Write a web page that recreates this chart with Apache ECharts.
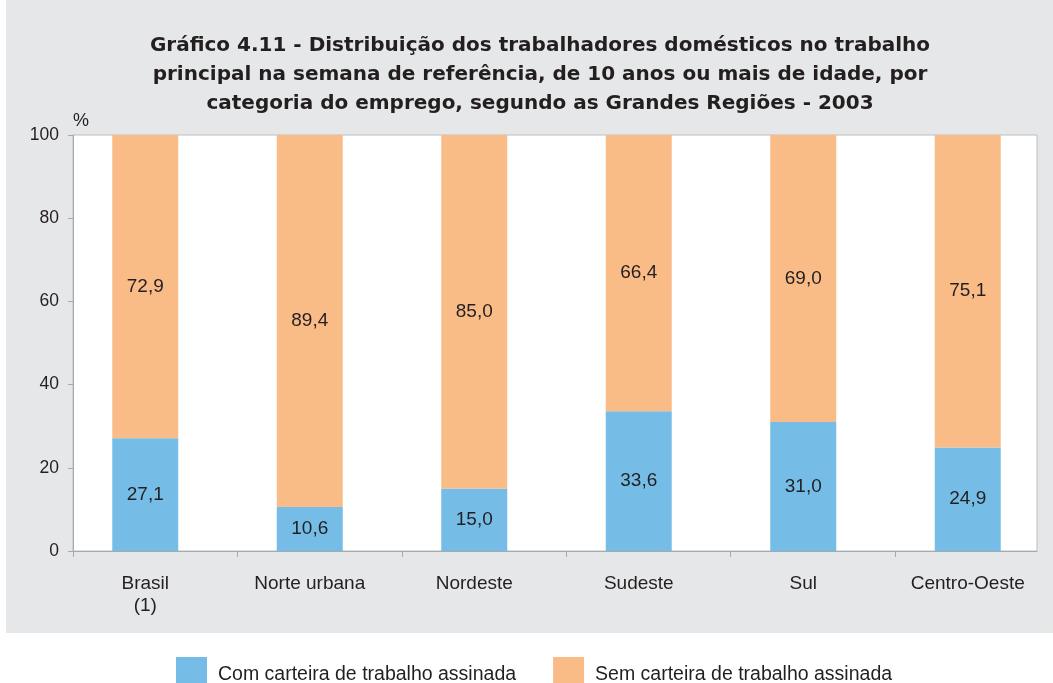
<!DOCTYPE html>
<html>
<head>
<meta charset="utf-8">
<script src="https://cdn.jsdelivr.net/npm/echarts@6/dist/echarts.min.js"></script>
<style>
html, body { margin: 0; padding: 0; background: #fff; }
#chart { width: 1053px; height: 683px; }
</style>
</head>
<body>
<div id="chart"></div>
<script>
// dados do gráfico
const regioes = ['Brasil\n(1)', 'Norte urbana', 'Nordeste', 'Sudeste', 'Sul', 'Centro-Oeste'];
const comCarteira = [27.1, 10.6, 15.0, 33.6, 31.0, 24.9];
const semCarteira = [72.9, 89.4, 85.0, 66.4, 69.0, 75.1];
const yTicks = [0, 20, 40, 60, 80, 100];

const txt = '#231f20';
const font = '"Liberation Sans", Arial, sans-serif';
const fmt = p => p.value.toFixed(1).replace('.', ',');

let mychart = echarts.init(document.getElementById('chart'));
mychart.setOption({
    textStyle: { fontFamily: font },
    graphic: [{
        type: 'rect',
        z: -10,
        shape: { x: 6, y: 0, width: 1047, height: 633 },
        style: { fill: '#e6e7e8' }
    }],
    title: {
        text: 'Gráfico 4.11 - Distribuição dos trabalhadores domésticos no trabalho\nprincipal na semana de referência, de 10 anos ou mais de idade, por\ncategoria do emprego, segundo as Grandes Regiões - 2003',
        left: 535,
        top: 26,
        textAlign: 'center',
        textStyle: { fontSize: 20, fontWeight: 'bold', color: txt, lineHeight: 29, fontFamily: '"DejaVu Sans", sans-serif' }
    },
    legend: {
        left: 176,
        top: 657,
        padding: 0,
        itemWidth: 31,
        itemHeight: 26,
        itemGap: 37,
        icon: 'rect',
        formatter: '{t|{name}}',
        textStyle: {
            color: txt,
            rich: { t: { fontSize: 19.5, color: txt, padding: [10, 0, 0, 6] } }
        },
        data: ['Com carteira de trabalho assinada', 'Sem carteira de trabalho assinada']
    },
    grid: [
        { left: 73, right: 16, top: 135, bottom: 132, show: true, backgroundColor: '#fff', borderColor: '#bcbec0', borderWidth: 1 },
        { left: 63, width: 987, top: 135, bottom: 132 }
    ],
    xAxis: [
        {
            gridIndex: 0, type: 'value', min: 0, max: 964 / 164.4, interval: 1,
            axisLine: { show: true, lineStyle: { color: '#a7a9ac' } },
            axisTick: { show: true, length: 6, lineStyle: { color: '#a7a9ac' }, customValues: [0, 1, 2, 3, 4, 5] },
            axisLabel: { show: false },
            splitLine: { show: false }
        },
        {
            gridIndex: 1, type: 'category', data: regioes,
            axisLine: { show: false },
            axisTick: { show: false },
            axisLabel: { fontSize: 19, color: txt, margin: 22, lineHeight: 22 }
        }
    ],
    yAxis: [
        {
            gridIndex: 0, type: 'value', min: 0, max: 100, interval: 20,
            name: '%',
            nameLocation: 'end',
            nameGap: 5,
            nameTextStyle: { fontSize: 18, color: txt, align: 'left', verticalAlign: 'bottom' },
            axisLine: { show: true, lineStyle: { color: '#a7a9ac' } },
            axisTick: { show: true, inside: false, length: 5, lineStyle: { color: '#a7a9ac' } },
            axisLabel: { fontSize: 17.5, color: txt, margin: 14, customValues: yTicks },
            splitLine: { show: false }
        },
        {
            gridIndex: 1, type: 'value', min: 0, max: 100, show: false
        }
    ],
    series: [
        {
            name: 'Com carteira de trabalho assinada',
            type: 'bar', stack: 'total', xAxisIndex: 1, yAxisIndex: 1,
            barWidth: 66,
            itemStyle: { color: '#75bde7' },
            label: { show: true, position: 'inside', formatter: fmt, fontSize: 19, color: txt },
            data: comCarteira
        },
        {
            name: 'Sem carteira de trabalho assinada',
            type: 'bar', stack: 'total', xAxisIndex: 1, yAxisIndex: 1,
            barWidth: 66,
            itemStyle: { color: '#fabc87' },
            label: { show: true, position: 'inside', formatter: fmt, fontSize: 19, color: txt },
            data: semCarteira
        }
    ]
});
</script>
</body>
</html>
